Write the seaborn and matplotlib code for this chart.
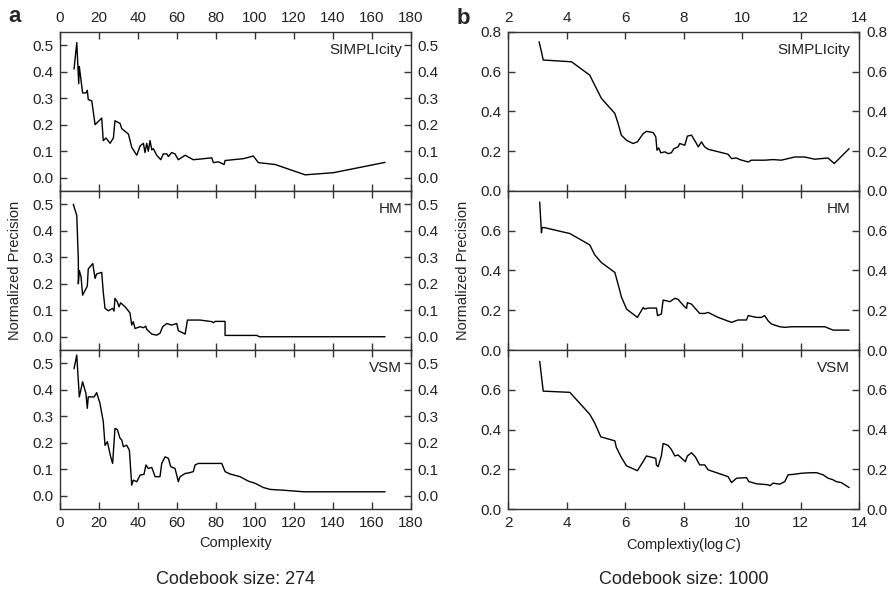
import numpy as np
import pandas as pd
import seaborn as sns
import matplotlib.pyplot as plt

# ---- panel a: codebook size 274, x = complexity ----
a_simp_x = [7.2, 8.6, 9.6, 9.9, 11.6, 13.3, 14.0, 14.5, 16.3, 18.0, 21.4, 22.2, 23.6, 25.7, 27.4,
            28.2, 30.8, 31.7, 35.1, 36.8, 38.5, 39.4, 41.1, 42.8, 43.6, 44.5, 45.3, 46.2, 47.1, 47.9,
            49.6, 51.7, 53.0, 54.8, 55.6, 57.3, 59.0, 60.7, 64.2, 68.4, 77.9, 78.7, 81.3, 84.2, 84.7,
            94.1, 99.2, 101.8, 110.4, 125.8, 140.3, 166.8]
a_simp_y = [0.41, 0.51, 0.355, 0.42, 0.32, 0.32, 0.33, 0.295, 0.29, 0.20, 0.225, 0.14, 0.15, 0.13, 0.15,
            0.215, 0.205, 0.185, 0.165, 0.115, 0.095, 0.085, 0.12, 0.13, 0.095, 0.13, 0.10, 0.14, 0.105, 0.11,
            0.085, 0.068, 0.09, 0.09, 0.08, 0.095, 0.09, 0.068, 0.085, 0.068, 0.075, 0.057, 0.06, 0.05, 0.065,
            0.072, 0.082, 0.057, 0.05, 0.011, 0.019, 0.058]

a_hm_x = [6.8, 8.6, 9.4, 9.4, 9.9, 10.8, 11.6, 14.0, 14.5, 16.8, 18.0, 18.8, 21.4, 22.2, 23.1, 24.8,
          27.0, 27.7, 28.2, 29.4, 30.3, 31.1, 33.4, 35.9, 36.8, 37.6, 38.5, 41.1, 42.8, 44.0, 44.5,
          47.1, 49.6, 51.3, 52.7, 54.8, 57.3, 59.9, 60.7, 64.2, 65.4, 71.9, 77.9, 78.7, 79.6, 84.7,
          84.7, 101.0, 102.3, 166.8]
a_hm_y = [0.50, 0.458, 0.29, 0.20, 0.25, 0.226, 0.157, 0.191, 0.256, 0.276, 0.22, 0.237, 0.243, 0.168, 0.107, 0.098,
          0.107, 0.097, 0.145, 0.132, 0.113, 0.128, 0.113, 0.09, 0.044, 0.057, 0.031, 0.038, 0.034, 0.04, 0.028,
          0.01, 0.006, 0.013, 0.038, 0.05, 0.044, 0.05, 0.023, 0.01, 0.063, 0.063, 0.057, 0.053, 0.058, 0.058,
          0.005, 0.005, 0.0, 0.0]

a_vsm_x = [7.2, 8.6, 9.9, 11.6, 13.3, 14.0, 14.5, 17.5, 18.8, 20.5, 22.2, 23.1, 24.3, 26.0, 27.0, 28.2,
           29.4, 30.8, 31.7, 32.5, 34.2, 35.6, 36.8, 37.6, 39.4, 41.1, 43.1, 44.1, 45.3, 47.1, 47.9, 48.8,
           51.3, 52.2, 53.9, 55.6, 56.8, 59.0, 59.9, 60.7, 61.6, 64.2, 66.4, 68.4, 69.3, 71.0, 83.0, 84.7,
           87.3, 92.4, 96.7, 100.1, 104.4, 107.8, 114.6, 124.9, 166.8]
a_vsm_y = [0.479, 0.531, 0.373, 0.43, 0.386, 0.33, 0.373, 0.373, 0.389, 0.349, 0.28, 0.19, 0.204, 0.147, 0.122, 0.254,
           0.25, 0.217, 0.21, 0.185, 0.191, 0.172, 0.04, 0.059, 0.053, 0.078, 0.081, 0.116, 0.103, 0.107, 0.091, 0.072,
           0.072, 0.122, 0.147, 0.141, 0.11, 0.103, 0.078, 0.053, 0.072, 0.084, 0.087, 0.091, 0.116, 0.122, 0.122, 0.091,
           0.082, 0.072, 0.055, 0.047, 0.031, 0.024, 0.021, 0.015, 0.015]

# ---- panel b: codebook size 1000, x = log complexity ----
b_simp_x = [3.06, 3.14, 3.20, 4.17, 4.79, 5.19, 5.65, 5.76, 5.87, 6.05, 6.27, 6.42, 6.62, 6.73, 6.96, 7.05,
            7.09, 7.15, 7.22, 7.36, 7.47, 7.58, 7.67, 7.81, 7.87, 8.04, 8.13, 8.27, 8.44, 8.50, 8.61, 8.72,
            8.84, 9.52, 9.64, 9.81, 9.92, 10.21, 10.32, 10.77, 11.06, 11.34, 11.80, 12.14, 12.48, 12.94,
            13.15, 13.66]
b_simp_y = [0.751, 0.70, 0.659, 0.65, 0.583, 0.466, 0.39, 0.34, 0.281, 0.255, 0.239, 0.247, 0.289, 0.30, 0.294, 0.272,
            0.205, 0.217, 0.192, 0.197, 0.188, 0.192, 0.213, 0.222, 0.239, 0.23, 0.276, 0.281, 0.239, 0.222, 0.247, 0.222,
            0.21, 0.185, 0.163, 0.166, 0.158, 0.146, 0.155, 0.155, 0.158, 0.155, 0.171, 0.171, 0.16, 0.166,
            0.138, 0.213]

b_hm_x = [3.08, 3.14, 3.16, 3.23, 4.11, 4.79, 4.96, 5.19, 5.65, 5.82, 5.87, 6.05, 6.42, 6.62, 6.67, 6.79,
          7.07, 7.11, 7.24, 7.30, 7.41, 7.53, 7.70, 7.81, 7.98, 8.10, 8.13, 8.27, 8.40, 8.55, 8.72, 8.84,
          9.18, 9.64, 9.86, 10.15, 10.21, 10.49, 10.66, 10.77, 10.89, 11.0, 11.29, 11.46, 11.69, 12.83,
          13.11, 13.66]
b_hm_y = [0.744, 0.59, 0.616, 0.616, 0.586, 0.529, 0.479, 0.44, 0.39, 0.298, 0.268, 0.206, 0.164, 0.214, 0.206, 0.211,
          0.211, 0.173, 0.181, 0.251, 0.248, 0.243, 0.26, 0.255, 0.226, 0.209, 0.238, 0.231, 0.209, 0.184, 0.184, 0.189,
          0.164, 0.139, 0.151, 0.151, 0.173, 0.164, 0.164, 0.173, 0.147, 0.131, 0.117, 0.114, 0.117, 0.117,
          0.10, 0.10]

b_vsm_x = [3.08, 3.20, 4.11, 4.79, 4.96, 5.17, 5.65, 5.70, 5.87, 6.05, 6.42, 6.58, 6.73, 7.05, 7.07, 7.13,
           7.24, 7.30, 7.47, 7.58, 7.70, 7.81, 8.06, 8.13, 8.27, 8.40, 8.55, 8.72, 8.84, 9.52, 9.64, 9.81,
           10.15, 10.23, 10.49, 10.89, 10.95, 11.06, 11.29, 11.46, 11.57, 11.80, 12.03, 12.26, 12.54, 12.77,
           12.94, 13.11, 13.22, 13.39, 13.66]
b_vsm_y = [0.743, 0.593, 0.587, 0.477, 0.433, 0.363, 0.343, 0.31, 0.26, 0.217, 0.193, 0.23, 0.267, 0.255, 0.222, 0.213,
           0.267, 0.33, 0.32, 0.30, 0.267, 0.272, 0.238, 0.267, 0.283, 0.263, 0.222, 0.222, 0.197, 0.163, 0.133, 0.155,
           0.158, 0.138, 0.127, 0.122, 0.117, 0.13, 0.125, 0.138, 0.172, 0.175, 0.18, 0.182, 0.183, 0.172,
           0.155, 0.147, 0.138, 0.133, 0.108]

methods = ["SIMPLIcity", "HM", "VSM"]
panel_a = [(a_simp_x, a_simp_y), (a_hm_x, a_hm_y), (a_vsm_x, a_vsm_y)]
panel_b = [(b_simp_x, b_simp_y), (b_hm_x, b_hm_y), (b_vsm_x, b_vsm_y)]

sns.set_style("ticks")
plt.rcParams['font.family'] = ['Liberation Sans', 'DejaVu Sans']
plt.rcParams['mathtext.fontset'] = 'custom'
plt.rcParams['mathtext.it'] = 'Liberation Sans:italic'
plt.rcParams['axes.edgecolor'] = '#333333'
plt.rcParams['axes.linewidth'] = 1.0
plt.rcParams['xtick.color'] = '#333333'
plt.rcParams['ytick.color'] = '#333333'
plt.rcParams['xtick.labelcolor'] = '#222222'
plt.rcParams['ytick.labelcolor'] = '#222222'

fig = plt.figure(figsize=(8.93, 5.89), dpi=100)
gs_a = fig.add_gridspec(3, 1, left=0.0672, right=0.460, top=0.9457, bottom=0.1358, hspace=0)
gs_b = fig.add_gridspec(3, 1, left=0.569, right=0.962, top=0.9457, bottom=0.1358, hspace=0)


def draw_panel(gs, series, xlim, xticks, ylim, yticks, yticks_lower, xlabel, ylabel_x, caption):
    axes = []
    for i, (name, (xs, ys)) in enumerate(zip(methods, series)):
        ax = fig.add_subplot(gs[i])
        df = pd.DataFrame({"x": xs, "y": ys})
        sns.lineplot(data=df, x="x", y="y", ax=ax, color="black", linewidth=1.0,
                     estimator=None, sort=False)
        ax.set_xlim(*xlim)
        ax.set_ylim(*ylim)
        ax.set_xticks(xticks)
        ax.set_yticks(yticks if i == 0 else yticks_lower)
        ax.yaxis.set_major_formatter(plt.FormatStrFormatter('%.1f'))
        ax.tick_params(direction="in", length=5, width=1, labelsize=11,
                       top=True, right=True, labelright=True,
                       labeltop=(i == 0), labelbottom=(i == 2), pad=5)
        ax.set_xlabel("")
        ax.set_ylabel("")
        ax.text(0.975, 0.93, name, transform=ax.transAxes, ha="right", va="top",
                fontsize=11, color="#222222")
        axes.append(ax)
    axes[2].set_xlabel(xlabel, fontsize=10.5, color="#222222", labelpad=4)
    bb = axes[1].get_position()
    fig.text(ylabel_x, (bb.y0 + bb.y1) / 2, "Normalized Precision", rotation=90,
             ha="center", va="center", fontsize=10.5, color="#222222")
    bb2 = axes[2].get_position()
    fig.text((bb2.x0 + bb2.x1) / 2, 1 - 580 / 589, caption, ha="center", va="center",
             fontsize=13, color="#222222")
    return axes


draw_panel(gs_a, panel_a, (0, 180), np.arange(0, 181, 20), (-0.05, 0.55),
           np.arange(0, 0.51, 0.1), np.arange(0, 0.51, 0.1),
           "Complexity", 15 / 893, "Codebook size: 274")
draw_panel(gs_b, panel_b, (2, 14), np.arange(2, 15, 2), (0, 0.8),
           np.arange(0, 0.81, 0.2), np.arange(0, 0.61, 0.2),
           r"Complextiy(log$\,C$)", 463 / 893, "Codebook size: 1000")

fig.text(15 / 893, 1 - 16 / 589, "a", fontsize=16, fontweight="bold", ha="center", va="center")
fig.text(463 / 893, 1 - 18 / 589, "b", fontsize=16, fontweight="bold", ha="center", va="center")

fig.savefig("out.png", dpi=100)
